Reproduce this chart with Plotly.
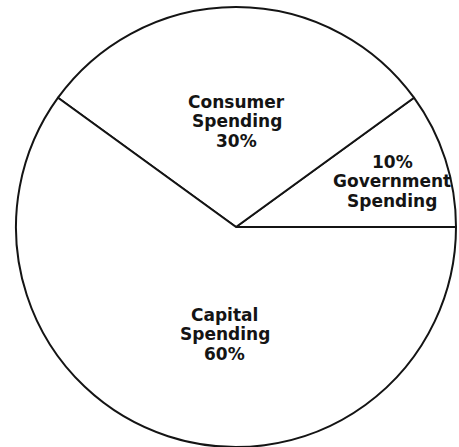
import math
import plotly.graph_objects as go

# Shares of spending, listed counterclockwise from 3 o'clock
categories = ["Government Spending", "Consumer Spending", "Capital Spending"]
shares = [10, 30, 60]
slice_labels = [
    ["10%", "Government", "Spending"],
    ["Consumer", "Spending", "30%"],
    ["Capital", "Spending", "60%"],
]

# Label placement inside each slice: fraction of radius and angle nudge (deg)
label_radius = [0.74, 0.48, 0.49]
label_nudge = [-1.6, -0.5, 12.0]

W, H = 459, 447
CX, CY, R = 236, 227, 220          # pie centre and radius in pixels
LINE_GAP = 19.5
INK = "#141414"

fig = go.Figure(
    go.Pie(
        labels=categories,
        values=shares,
        textinfo="none",
        sort=False,
        direction="counterclockwise",
        # counterclockwise pies end their first slice at `rotation`
        rotation=90 - 360 * shares[0] / sum(shares),
        hoverinfo="label+percent",
        marker=dict(colors=["white"] * len(shares), line=dict(color=INK, width=2)),
        domain=dict(x=[(CX - R) / W, (CX + R) / W], y=[1 - (CY + R) / H, 1 - (CY - R) / H]),
        showlegend=False,
    )
)

# Slice labels placed along each slice's angular middle
total = sum(shares)
start = 0.0
annotations = []
for share, lines, frac, nudge in zip(shares, slice_labels, label_radius, label_nudge):
    sweep = 360.0 * share / total
    mid = math.radians(start + sweep / 2 + nudge)
    start += sweep
    px = CX + R * frac * math.cos(mid)
    py = CY - R * frac * math.sin(mid)
    n = len(lines)
    for i, line in enumerate(lines):
        annotations.append(
            dict(
                x=px / W,
                y=1 - py / H,
                xref="paper",
                yref="paper",
                text=line,
                showarrow=False,
                xanchor="center",
                yanchor="middle",
                yshift=-(i - (n - 1) / 2) * LINE_GAP,
                font=dict(family="DejaVu Sans", size=17, color=INK, weight="bold"),
            )
        )

fig.update_layout(
    width=W,
    height=H,
    margin=dict(l=0, r=0, t=0, b=0),
    paper_bgcolor="white",
    plot_bgcolor="white",
    annotations=annotations,
)

fig.write_html("out.html")
